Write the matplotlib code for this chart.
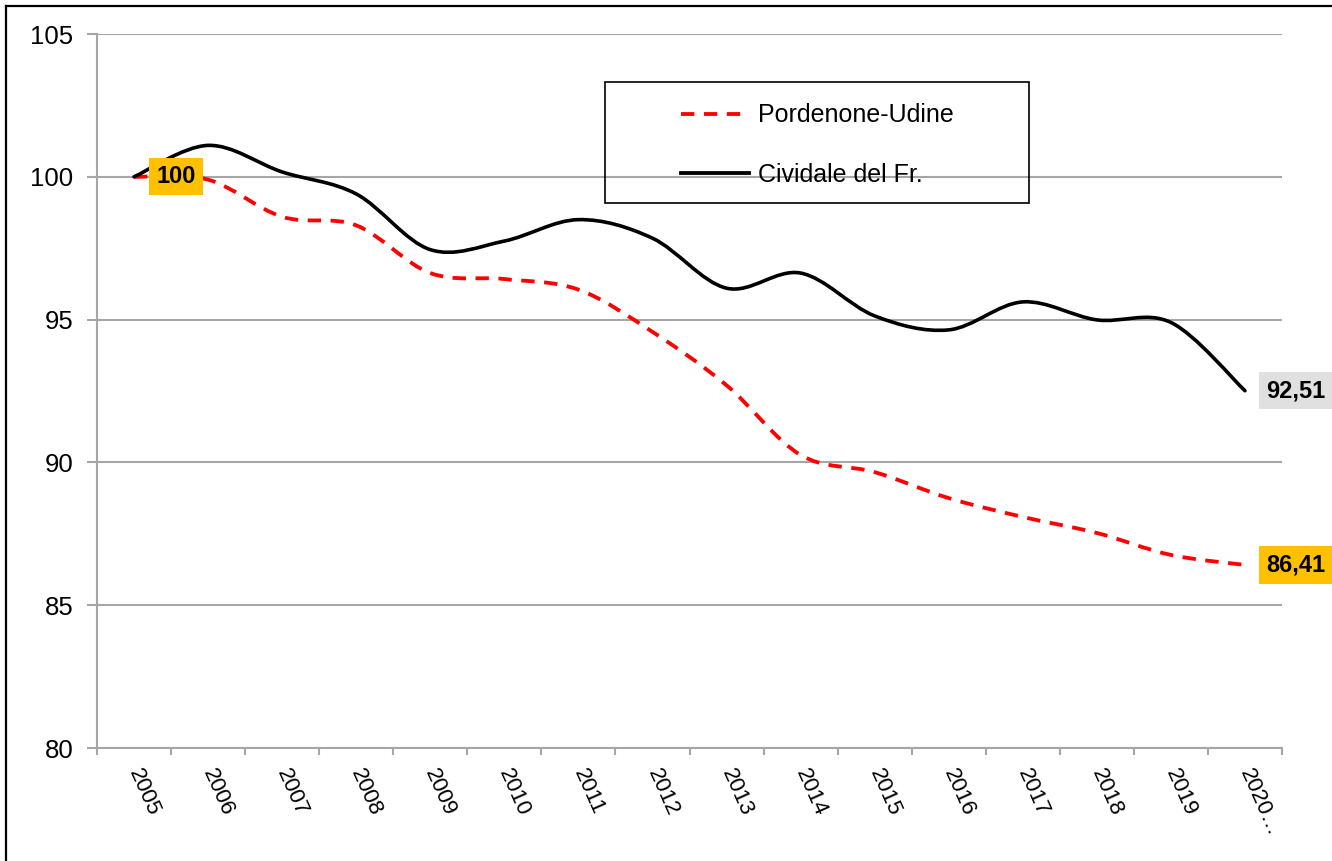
import numpy as np
import matplotlib
matplotlib.use("Agg")
import matplotlib.pyplot as plt
from matplotlib.path import Path
from matplotlib.patches import PathPatch, Rectangle
from matplotlib.lines import Line2D

years = ["2005", "2006", "2007", "2008", "2009", "2010", "2011", "2012",
         "2013", "2014", "2015", "2016", "2017", "2018", "2019", "2020…"]
pordenone_udine = [100.0, 99.9, 98.6, 98.3, 96.63, 96.42, 96.05, 94.57,
                   92.7, 90.26, 89.66, 88.75, 88.09, 87.53, 86.76, 86.41]
cividale = [100.0, 101.1, 100.17, 99.4, 97.45, 97.75, 98.5, 97.85,
            96.1, 96.63, 95.13, 94.64, 95.62, 94.99, 94.9, 92.51]

plt.rcParams["font.family"] = ["Liberation Sans", "DejaVu Sans"]

W, H = 1332, 861
fig = plt.figure(figsize=(W / 100, H / 100), dpi=100)
ax = fig.add_axes([97 / W, 113 / H, (1282 - 97) / W, (748 - 34) / H])


def smooth_path(y):
    # Excel-style smoothed line: cubic Bezier through the points
    x = np.arange(len(y), dtype=float)
    y = np.asarray(y, dtype=float)
    pts = np.column_stack([x, y])
    verts = [pts[0]]
    codes = [Path.MOVETO]
    n = len(pts)
    for i in range(n - 1):
        p0 = pts[max(i - 1, 0)]
        p1 = pts[i]
        p2 = pts[i + 1]
        p3 = pts[min(i + 2, n - 1)]
        c1 = p1 + (p2 - p0) / 6.0
        c2 = p2 - (p3 - p1) / 6.0
        verts += [c1, c2, p2]
        codes += [Path.CURVE4] * 3
    return Path(verts, codes)


ax.add_patch(PathPatch(smooth_path(pordenone_udine), fill=False, edgecolor="#FF0000",
                       lw=2.75, linestyle=(0, (3.5, 2.5)), zorder=3))
ax.add_patch(PathPatch(smooth_path(cividale), fill=False, edgecolor="black",
                       lw=2.6, zorder=4, capstyle="round"))

ax.set_xlim(-0.5, len(years) - 0.5)
ax.set_ylim(80, 105)
ax.set_yticks([80, 85, 90, 95, 100, 105])
ax.grid(axis="y", color="#A6A6A6", lw=1.5)
ax.set_axisbelow(True)

grey = "#A6A6A6"
for s in ["top", "right"]:
    ax.spines[s].set_visible(False)
for s in ["left", "bottom"]:
    ax.spines[s].set_color(grey)
    ax.spines[s].set_linewidth(1.5)

ax.tick_params(axis="y", direction="out", length=7, width=1.5, color=grey,
               labelsize=18.5, pad=10)
ax.set_xticks(range(len(years)))
ax.set_xticklabels(years, rotation=-66, ha="left", va="center",
                   rotation_mode="anchor", fontsize=16)
ax.set_xticks(np.arange(-0.5, len(years), 1.0), minor=True)
ax.tick_params(axis="x", which="major", length=0, pad=16)
ax.tick_params(axis="x", which="minor", direction="out", length=5, width=1.5, color=grey)

# data labels
ax.annotate("100", (0, pordenone_udine[0]), xytext=(16, 0), textcoords="offset points",
            ha="left", va="center", fontsize=17, fontweight="bold",
            bbox=dict(boxstyle="square,pad=0.3", fc="#FFC000", ec="none"), zorder=6)
ax.annotate("92,51", (len(years) - 1, cividale[-1]), xytext=(15, 0), textcoords="offset points",
            ha="left", va="center", fontsize=17, fontweight="bold",
            bbox=dict(boxstyle="square,pad=0.3", fc="#E0E0E0", ec="none"),
            annotation_clip=False, zorder=6)
ax.annotate("86,41", (len(years) - 1, pordenone_udine[-1]), xytext=(15, 0), textcoords="offset points",
            ha="left", va="center", fontsize=17, fontweight="bold",
            bbox=dict(boxstyle="square,pad=0.3", fc="#FFC000", ec="none"),
            annotation_clip=False, zorder=6)

# legend
lx0, ly0, lx1, ly1 = 605, 82, 1029, 203
fig.add_artist(Rectangle((lx0 / W, 1 - ly1 / H), (lx1 - lx0) / W, (ly1 - ly0) / H,
                         transform=fig.transFigure, fill=False, ec="black", lw=1.2))
handles = [Line2D([], [], color="#FF0000", lw=2.75, linestyle=(0, (3.5, 2.5))),
           Line2D([], [], color="black", lw=2.75)]
ax.legend(handles, ["Pordenone-Udine", "Cividale del Fr."], loc="center",
          bbox_to_anchor=((lx0 + lx1) / 2 / W, 1 - (ly0 + ly1) / 2 / H - 2.5 / H),
          bbox_transform=fig.transFigure, frameon=False, fontsize=18,
          handlelength=2.72, handletextpad=0.36, labelspacing=1.42, borderpad=0)

# outer border (left and top visible)
fig.add_artist(Line2D([5.5 / W, 5.5 / W], [0, 1 - 5.5 / H], color="black", lw=1.6,
                      transform=fig.transFigure))
fig.add_artist(Line2D([5.5 / W, 1], [1 - 5.5 / H, 1 - 5.5 / H], color="black", lw=1.6,
                      transform=fig.transFigure))

fig.savefig("out.png", dpi=100)
